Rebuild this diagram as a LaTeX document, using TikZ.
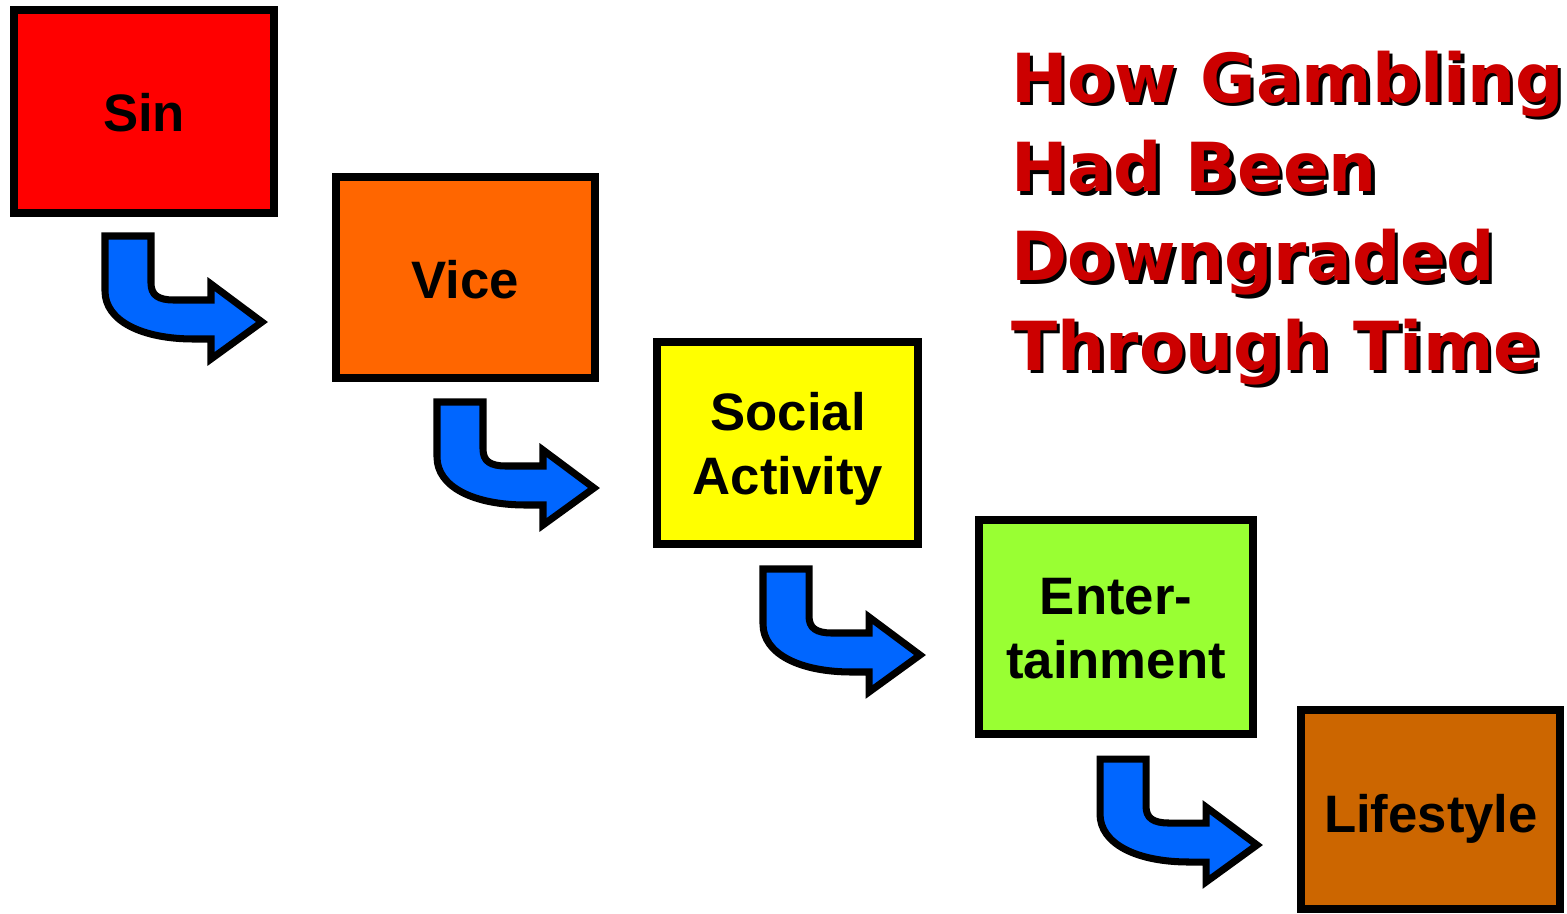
\documentclass[tikz,border=0pt]{standalone}
\usepackage{fontspec}
\newfontfamily\boxfont{Liberation Sans}
\newfontfamily\titlefont{DejaVu Sans}
\definecolor{sinred}{HTML}{FF0000}
\definecolor{viceorange}{HTML}{FF6600}
\definecolor{socialyellow}{HTML}{FFFF00}
\definecolor{entgreen}{HTML}{99FF33}
\definecolor{lifebrown}{HTML}{CC6600}
\definecolor{arrowblue}{HTML}{0066FF}
\definecolor{titlered}{HTML}{CC0000}
\tikzset{
  stage/.style n args={3}{draw=black, line width=4.5pt, fill=#1,
    minimum width={#2*0.02cm}, minimum height={#3*0.02cm}, inner sep=0pt},
  stagetext/.style={align=center, inner sep=0pt, anchor=base,
    font=\boxfont\bfseries\fontsize{30}{36}\selectfont},
  bentarrow/.style={draw=black, fill=arrowblue, line width=4pt, miter limit=10},
  titletxt/.style={inner sep=0pt, anchor=base west,
    font=\titlefont\bfseries\fontsize{38.5}{50}\selectfont}
}
\begin{document}
\begin{tikzpicture}[x=0.02cm,y=-0.02cm]
\useasboundingbox (0,0) rectangle (1567,913);
% stage boxes
\node[stage={sinred}{260}{203}] (sin) at (144,111.5) {};
\node[stage={viceorange}{259}{201}] (vice) at (465.5,277.5) {};
\node[stage={socialyellow}{261}{202}] (social) at (787.5,443) {};
\node[stage={entgreen}{274}{214}] (ent) at (1116,627) {};
\node[stage={lifebrown}{259}{199}] (life) at (1430.5,809.5) {};
% stage texts
\node[stagetext] (sintext) at (144,131) {Sin};
\node[stagetext] (vicetext) at (465.5,298) {Vice};
\node[stagetext] (socialtext) at (788,494) {Social\\Activity};
\node[stagetext] (enttext) at (1116,678) {Enter-\\tainment};
\node[stagetext] (lifetext) at (1431,832) {Lifestyle};
% bent arrows
\foreach \ox/\oy in {102/233, 434/399, 760/566, 1097/756} {
  \begin{scope}[shift={(\ox,\oy)}]
    \draw[bentarrow] (3,3) -- (49,3) -- (49,50)
      .. controls (49,62) and (56,67) .. (72,67)
      -- (109,67) -- (109,51) -- (160,89) -- (109,126) -- (109,106) -- (92,106)
      .. controls (40,106) and (3,88) .. (3,58) -- cycle;
  \end{scope}
}
% title with shadow
\foreach \t [count=\i] in {How Gambling, Had Been, Downgraded, Through Time} {
  \node[titletxt, text=black] (sh\i) at ({1014.5},{13+89.3*\i+3.5}) {\t};
  \node[titletxt, text=titlered] (t\i) at ({1011},{13+89.3*\i}) {\t};
}
\end{tikzpicture}
\end{document}
